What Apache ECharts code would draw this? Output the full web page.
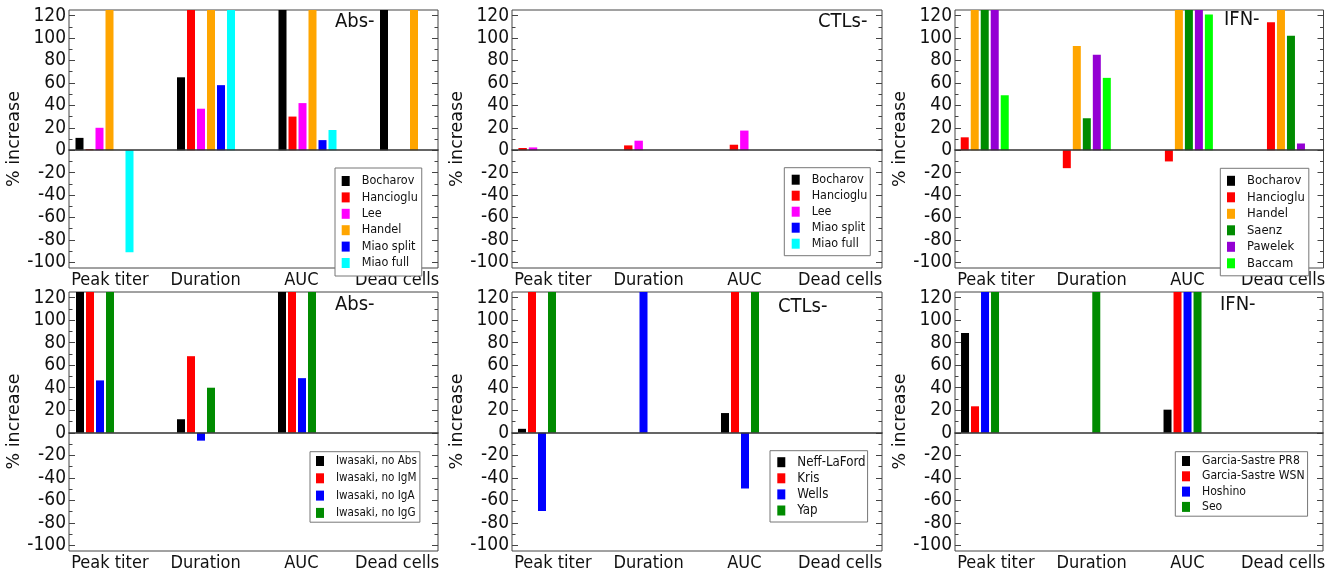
<!DOCTYPE html>
<html><head><meta charset="utf-8">
<script src="https://cdn.jsdelivr.net/npm/echarts@6/dist/echarts.min.js"></script>
<style>html,body{margin:0;padding:0;background:#fff}#c{width:1337px;height:575px}</style>
</head><body><div id="c"></div>
<script>
// ---------- DATA ----------
const categories = ['Peak titer', 'Duration', 'AUC', 'Dead cells'];
const yTickValues = [-100, -80, -60, -40, -20, 0, 20, 40, 60, 80, 100, 120];
const yMinorTickValues = [-90, -70, -50, -30, -10, 10, 30, 50, 70, 90, 110];
// values above the visible range (clipped in the figure) are given as 150

// Top-left: Abs-
const absTopTitle = 'Abs-';
const absTopNames = ['Bocharov', 'Hancioglu', 'Lee', 'Handel', 'Miao split', 'Miao full'];
const absTopValues = [
  [11, 65, 150, 150],
  [1, 150, 30, null],
  [20, 37, 42, null],
  [150, 150, 150, 150],
  [null, 58, 9, null],
  [-91, 150, 18, null]
];

// Top-middle: CTLs-
const ctlTopTitle = 'CTLs-';
const ctlTopNames = ['Bocharov', 'Hancioglu', 'Lee', 'Miao split', 'Miao full'];
const ctlTopValues = [
  [null, null, null, null],
  [2, 4.3, 4.9, null],
  [2.5, 8.5, 17.5, null],
  [null, null, null, null],
  [null, null, null, null]
];

// Top-right: IFN-
const ifnTopTitle = 'IFN-';
const ifnTopNames = ['Bocharov', 'Hancioglu', 'Handel', 'Saenz', 'Pawelek', 'Baccam'];
const ifnTopValues = [
  [null, null, null, null],
  [11.5, -16, -10, 114],
  [150, 93, 150, 150],
  [150, 28.5, 150, 102],
  [150, 85, 150, 6],
  [49, 64.5, 121, null]
];

// Bottom-left: Abs-
const absBotTitle = 'Abs-';
const absBotNames = ['Iwasaki, no Abs', 'Iwasaki, no IgM', 'Iwasaki, no IgA', 'Iwasaki, no IgG'];
const absBotValues = [
  [150, 12, 150, null],
  [150, 68, 150, null],
  [46.5, -7, 48.5, null],
  [150, 40, 150, null]
];

// Bottom-middle: CTLs-
const ctlBotTitle = 'CTLs-';
const ctlBotNames = ['Neff-LaFord', 'Kris', 'Wells', 'Yap'];
const ctlBotValues = [
  [3.5, null, 17.5, null],
  [150, null, 150, null],
  [-69.5, 150, -49.5, null],
  [150, null, 150, null]
];

// Bottom-right: IFN-
const ifnBotTitle = 'IFN-';
const ifnBotNames = ['Garcia-Sastre PR8', 'Garcia-Sastre WSN', 'Hoshino', 'Seo'];
const ifnBotValues = [
  [88.5, null, 20.5, null],
  [23.5, null, 150, null],
  [150, null, 150, null],
  [150, 150, 150, null]
];

// ---------- STYLE ----------
const seriesColors = {
  'Bocharov': '#000000', 'Hancioglu': '#ff0000', 'Lee': '#ff00ff', 'Handel': '#ffa500',
  'Miao split': '#0000ff', 'Miao full': '#00ffff', 'Saenz': '#008b00', 'Pawelek': '#9400d3',
  'Baccam': '#00ff00', 'Iwasaki, no Abs': '#000000', 'Iwasaki, no IgM': '#ff0000',
  'Iwasaki, no IgA': '#0000ff', 'Iwasaki, no IgG': '#008b00', 'Neff-LaFord': '#000000',
  'Kris': '#ff0000', 'Wells': '#0000ff', 'Yap': '#008b00', 'Garcia-Sastre PR8': '#000000',
  'Garcia-Sastre WSN': '#ff0000', 'Hoshino': '#0000ff', 'Seo': '#008b00'
};
const FONT = 'DejaVu Sans Condensed';

const panels = [
  { title: absTopTitle, names: absTopNames, values: absTopValues,
    frame: { left: 69, top: 10, width: 369, height: 258 }, bars: { left: 53.75, width: 406 },
    barWidth: 8, barGap: '25%',
    legend: { left: 335, top: 168, pad: [6.5, 4, 6.5, 6.7], gap: 3.4, font: 12.5 },
    titlePos: { left: 335, top: 12 } },
  { title: ctlTopTitle, names: ctlTopNames, values: ctlTopValues,
    frame: { left: 512, top: 10, width: 370, height: 258 }, bars: { left: 480.2, width: 422.6 },
    barWidth: 8.4, barGap: '24%',
    legend: { left: 784.3, top: 167.7, pad: [6, 3, 6, 7.4], gap: 4, font: 12.4 },
    titlePos: { left: 818, top: 12 } },
  { title: ifnTopTitle, names: ifnTopNames, values: ifnTopValues,
    frame: { left: 955, top: 10, width: 368.5, height: 258 }, bars: { left: 928.7, width: 410.7 },
    barWidth: 8, barGap: '25%',
    legend: { left: 1220.3, top: 168.3, pad: [6, 4, 6, 6.7], gap: 3.5, font: 12.9 },
    titlePos: { left: 1224, top: 10 } },
  { title: absBotTitle, names: absBotNames, values: absBotValues,
    frame: { left: 69, top: 292, width: 369, height: 259 }, bars: { left: 44.5, width: 404 },
    barWidth: 8, barGap: '25%',
    legend: { left: 310, top: 451.7, pad: [3.3, 3, 3.3, 6], gap: 5.3, font: 11.6 },
    titlePos: { left: 335, top: 295 } },
  { title: ctlBotTitle, names: ctlBotNames, values: ctlBotValues,
    frame: { left: 512, top: 292, width: 370, height: 259 }, bars: { left: 486.25, width: 406 },
    barWidth: 8, barGap: '25%',
    legend: { left: 770, top: 450.7, pad: [5, 2, 5, 7.3], gap: 3.1, font: 13.2 },
    titlePos: { left: 778, top: 297 } },
  { title: ifnBotTitle, names: ifnBotNames, values: ifnBotValues,
    frame: { left: 955, top: 292, width: 368, height: 259 }, bars: { left: 929.4, width: 405 },
    barWidth: 8, barGap: '25%',
    legend: { left: 1175.3, top: 451.7, pad: [3.3, 3, 3.3, 6.7], gap: 3.3, font: 12.1 },
    titlePos: { left: 1220, top: 295 } }
];

// ---------- BUILD ----------
const option = { animation: false, backgroundColor: '#fff', grid: [], xAxis: [], yAxis: [], series: [], legend: [], title: [] };
const Y_MIN = -105, Y_MAX = 125;
const tickLine = { color: '#444', width: 1 };

panels.forEach(p => {
  const gFrame = option.grid.length;
  option.grid.push({ left: p.frame.left, top: p.frame.top, width: p.frame.width, height: p.frame.height,
    show: true, borderColor: '#444', borderWidth: 1, backgroundColor: 'rgba(0,0,0,0)' });
  option.grid.push({ left: p.frame.left - 7, top: p.frame.top, width: 383, height: p.frame.height, show: false });
  option.grid.push({ left: p.bars.left, top: p.frame.top, width: p.bars.width, height: p.frame.height, show: false });

  // zero line
  option.xAxis.push({ gridIndex: gFrame, type: 'value', min: 0, max: 1, position: 'top', z: 10,
    axisLine: { show: true, onZero: true, lineStyle: { color: '#333', width: 1.5 } },
    axisTick: { show: false }, axisLabel: { show: false }, splitLine: { show: false } });
  // category labels
  option.xAxis.push({ gridIndex: gFrame + 1, type: 'category', data: categories, position: 'bottom',
    axisLine: { show: false, onZero: false }, axisTick: { show: false }, splitLine: { show: false },
    axisLabel: { interval: 0, fontFamily: FONT, fontSize: 18, color: '#111', margin: 3 } });
  // bar axis
  const xBar = option.xAxis.length;
  option.xAxis.push({ gridIndex: gFrame + 2, type: 'category', data: categories, show: false,
    axisLine: { onZero: false } });

  const base = { type: 'value', min: Y_MIN, max: Y_MAX, splitLine: { show: false },
    axisLine: { show: false, onZero: false } };
  option.yAxis.push(Object.assign({}, base, { gridIndex: gFrame, position: 'left',
    name: '% increase', nameLocation: 'middle', nameGap: 41,
    nameTextStyle: { fontFamily: 'DejaVu Sans', fontSize: 17.5, color: '#111' },
    axisTick: { show: true, inside: true, length: 6, customValues: yTickValues, lineStyle: tickLine },
    axisLabel: { show: true, customValues: yTickValues, fontFamily: FONT, fontSize: 19, color: '#111', margin: 3 } }));
  option.yAxis.push(Object.assign({}, base, { gridIndex: gFrame, position: 'left',
    axisTick: { show: true, inside: true, length: 3.5, customValues: yMinorTickValues, lineStyle: tickLine },
    axisLabel: { show: false } }));
  option.yAxis.push(Object.assign({}, base, { gridIndex: gFrame, position: 'right',
    axisTick: { show: true, inside: true, length: 6, customValues: yTickValues, lineStyle: tickLine },
    axisLabel: { show: false } }));
  option.yAxis.push(Object.assign({}, base, { gridIndex: gFrame, position: 'right',
    axisTick: { show: true, inside: true, length: 3.5, customValues: yMinorTickValues, lineStyle: tickLine },
    axisLabel: { show: false } }));
  option.yAxis.push(Object.assign({}, base, { gridIndex: gFrame + 1, show: false }));
  const yBar = option.yAxis.length;
  option.yAxis.push(Object.assign({}, base, { gridIndex: gFrame + 2, show: false }));

  p.names.forEach((n, k) => {
    option.series.push({ type: 'bar', name: n, xAxisIndex: xBar, yAxisIndex: yBar, clip: true,
      data: p.values[k].map(v => v === null ? '-' : v),
      barWidth: p.barWidth, barGap: p.barGap, itemStyle: { color: seriesColors[n] } });
  });

  const L = p.legend;
  option.legend.push({ orient: 'vertical', left: L.left, top: L.top, padding: L.pad, itemGap: L.gap,
    itemWidth: 8, itemHeight: 10, icon: 'rect', data: p.names, selectedMode: false,
    borderColor: '#777', borderWidth: 1, backgroundColor: '#fff',
    textStyle: { fontFamily: FONT, fontSize: L.font, color: '#111', lineHeight: 10, padding: [0, 0, 0, 7] } });
  option.title.push({ text: p.title, left: p.titlePos.left, top: p.titlePos.top, padding: 0,
    textStyle: { fontFamily: FONT, fontSize: 20, fontWeight: 'normal', color: '#111' } });
});

const chart = echarts.init(document.getElementById('c'), null, { renderer: 'canvas' });
chart.setOption(option);
</script></body></html>
